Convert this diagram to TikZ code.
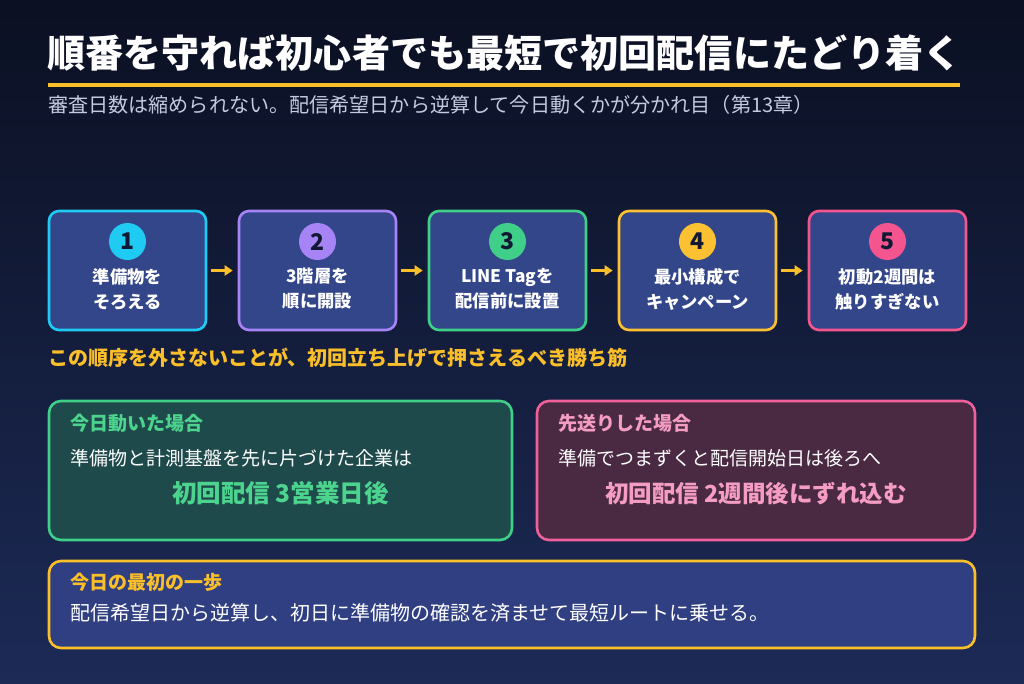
\documentclass[tikz,border=0pt]{standalone}
\usepackage{fontspec}
\setmainfont{Noto Sans CJK JP}
\usetikzlibrary{arrows.meta}
\definecolor{bgtop}{HTML}{0B1022}
\definecolor{bgbot}{HTML}{1C2A56}
\definecolor{amber}{HTML}{FBBF2A}
\definecolor{subgray}{HTML}{C3CBDF}
\definecolor{boxfill}{HTML}{33468A}
\definecolor{cA}{HTML}{1FCBF2}
\definecolor{cB}{HTML}{A784F5}
\definecolor{cC}{HTML}{3FCF88}
\definecolor{cD}{HTML}{FBC132}
\definecolor{cE}{HTML}{F4558F}
\definecolor{numtext}{HTML}{111833}
\definecolor{greenfill}{HTML}{1F4A4B}
\definecolor{greentext}{HTML}{4CD48F}
\definecolor{pinkfill}{HTML}{4A2A42}
\definecolor{pinkborder}{HTML}{F0609A}
\definecolor{pinktext}{HTML}{F59CC3}
\definecolor{bottomfill}{HTML}{2F3F82}
\tikzset{
  stepbox/.style={draw, line width=2.6pt, fill=boxfill, rounded corners=10pt, minimum width=157pt, minimum height=119pt, inner sep=0pt},
  numcirc/.style={circle, minimum size=37pt, inner sep=0pt, text=numtext, font=\fontsize{23}{23}\selectfont\bfseries},
  steplabel/.style={align=center, text=white, inner sep=0pt, font=\fontsize{17.3}{25}\selectfont\bfseries},
  flowarrow/.style={draw=amber, line width=3.8pt, -{Triangle[length=8pt,width=10pt]}, shorten <=4pt, shorten >=5pt},
  panel/.style={draw, line width=2.6pt, rounded corners=12pt, inner sep=0pt},
  txt/.style={anchor=base west, inner sep=0pt},
}
\begin{document}
\begin{tikzpicture}[x=1pt,y=-1pt]
\useasboundingbox (0,0) rectangle (1024,683);
\shade[top color=bgtop,bottom color=bgbot] (0,0) rectangle (1024,683);

% title
\node[txt, text=white, font=\fontsize{38.1}{40}\selectfont\bfseries] (title) at (47,67) {順番を守れば初心者でも最短で初回配信にたどり着く};
\draw[amber, line width=4.5pt] (48,85) -- (960,85);
\node[txt, text=subgray, font=\fontsize{20.1}{22}\selectfont] (sub) at (48,112) {審査日数は縮められない。配信希望日から逆算して今日動くかが分かれ目（第13章）};

% steps
\node[stepbox, draw=cA] (s1) at (127.5,270.5) {};
\node[stepbox, draw=cB] (s2) at (317.5,270.5) {};
\node[stepbox, draw=cC] (s3) at (507.5,270.5) {};
\node[stepbox, draw=cD] (s4) at (697.5,270.5) {};
\node[stepbox, draw=cE] (s5) at (887.5,270.5) {};

\node[numcirc, fill=cA] (n1) at (127.5,241.5) {1};
\node[numcirc, fill=cB] (n2) at (317.5,241.5) {2};
\node[numcirc, fill=cC] (n3) at (507.5,241.5) {3};
\node[numcirc, fill=cD] (n4) at (697.5,241.5) {4};
\node[numcirc, fill=cE] (n5) at (887.5,241.5) {5};

\node[steplabel] (l1) at (127.5,289) {準備物を\\そろえる};
\node[steplabel] (l2) at (317.5,289) {3階層を\\順に開設};
\node[steplabel] (l3) at (507.5,289) {LINE Tagを\\配信前に設置};
\node[steplabel] (l4) at (697.5,289) {最小構成で\\キャンペーン};
\node[steplabel] (l5) at (887.5,289) {初動2週間は\\触りすぎない};

\draw[flowarrow] (s1.east) -- (s2.west);
\draw[flowarrow] (s2.east) -- (s3.west);
\draw[flowarrow] (s3.east) -- (s4.west);
\draw[flowarrow] (s4.east) -- (s5.west);

\node[txt, text=amber, font=\fontsize{20}{22}\selectfont\bfseries] (rule) at (48,365) {この順序を外さないことが、初回立ち上げで押さえるべき勝ち筋};

% green panel
\node[panel, draw=cC, fill=greenfill, minimum width=463pt, minimum height=139pt] (gp) at (280.5,470.5) {};
\node[txt, text=greentext, font=\fontsize{19}{22}\selectfont\bfseries] (gt) at (70,430) {今日動いた場合};
\node[txt, text=white, font=\fontsize{19}{22}\selectfont] (gb) at (70,465) {準備物と計測基盤を先に片づけた企業は};
\node[anchor=base, inner sep=0pt, text=greentext, font=\fontsize{24.5}{26}\selectfont\bfseries] (gbig) at (280.5,502) {初回配信 3営業日後};

% pink panel
\node[panel, draw=pinkborder, fill=pinkfill, minimum width=438pt, minimum height=139pt] (pp) at (756,470.5) {};
\node[txt, text=pinktext, font=\fontsize{19}{22}\selectfont\bfseries] (pt) at (558,430) {先送りした場合};
\node[txt, text=white, font=\fontsize{19}{22}\selectfont] (pb) at (558,465) {準備でつまずくと配信開始日は後ろへ};
\node[anchor=base, inner sep=0pt, text=pinktext, font=\fontsize{23.5}{26}\selectfont\bfseries] (pbig) at (756,502) {初回配信 2週間後にずれ込む};

% bottom panel
\node[panel, draw=amber, fill=bottomfill, minimum width=926pt, minimum height=87pt] (bp) at (512,604.5) {};
\node[txt, text=amber, font=\fontsize{19}{22}\selectfont\bfseries] (bt) at (70,589) {今日の最初の一歩};
\node[txt, text=white, font=\fontsize{20}{22}\selectfont] (bb) at (70,620) {配信希望日から逆算し、初日に準備物の確認を済ませて最短ルートに乗せる。};
\end{tikzpicture}
\end{document}
